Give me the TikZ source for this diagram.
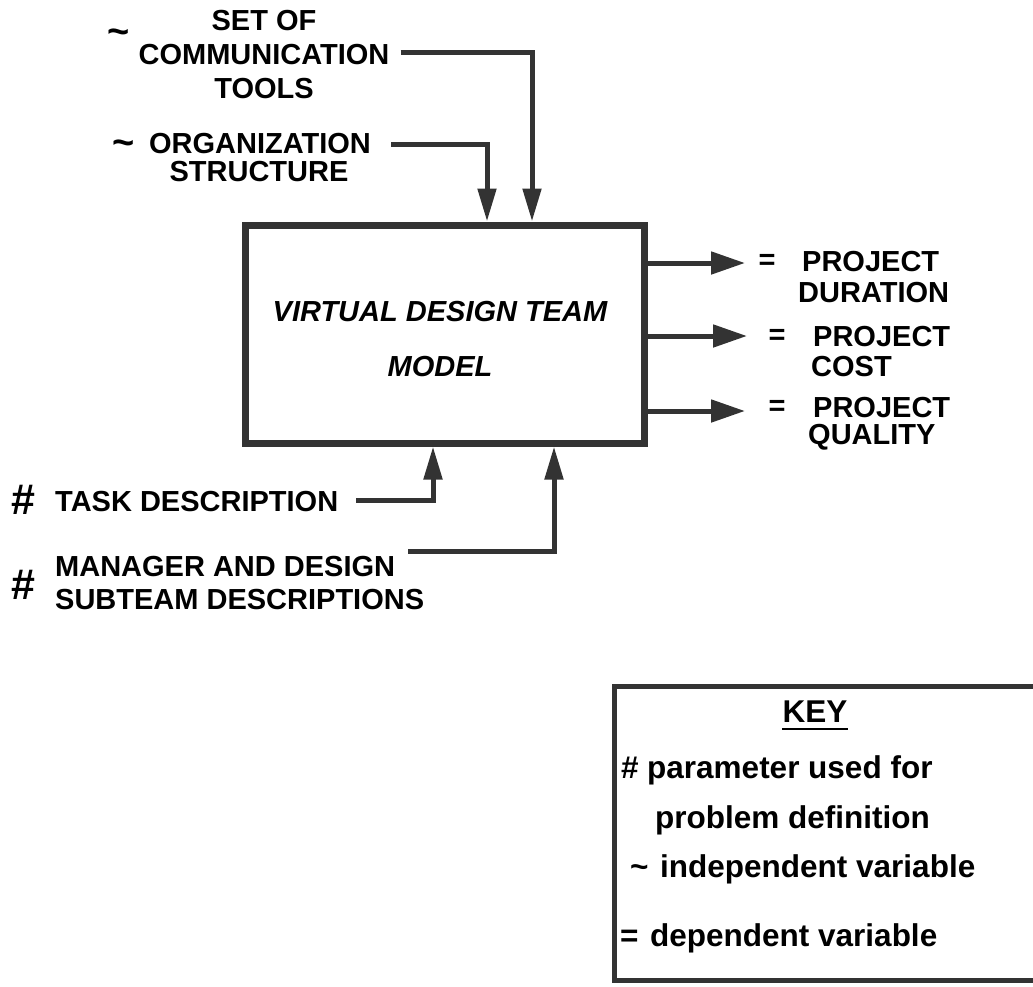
\documentclass[tikz,border=0pt]{standalone}
\usepackage{fontspec}
\setmainfont{Liberation Sans}
\usetikzlibrary{arrows.meta}
\begin{document}
\begin{tikzpicture}[x=1pt,y=-1pt,
  lbl/.style={inner sep=0pt, font=\fontsize{29}{34}\selectfont\bfseries},
  keytxt/.style={inner sep=0pt, anchor=base west, font=\fontsize{31.5}{34}\selectfont\bfseries},
  sym/.style={inner sep=0pt, font=\fontsize{38}{38}\selectfont\bfseries},
  hashsym/.style={inner sep=0pt, font=\fontsize{43}{43}\selectfont\bfseries},
  conn/.style={line width=5pt, draw=black!80},
  arrdown/.style={conn, -{Triangle[length=33pt,width=18pt]}},
  arrright/.style={conn, -{Triangle[length=34pt,width=22pt]}},
  boxst/.style={draw=black!80, line width=7pt, inner sep=0pt, minimum width=399pt, minimum height=218pt},
]
\useasboundingbox (0,0) rectangle (1033,986);

% main model box
\node[boxst] (vdt) at (444.5,334) {};
\node[inner sep=0pt, align=center, font=\fontsize{29}{55}\selectfont\bfseries\itshape] (vdtt) at (440,339.5) {VIRTUAL DESIGN TEAM\\MODEL};

% top inputs
\node[lbl, align=center] (comm) at (264,55) {SET OF\\COMMUNICATION\\TOOLS};
\node[sym] (tl1) at (119,37) {\textasciitilde};
\node[lbl] (org1) at (260,144) {ORGANIZATION};
\node[lbl] (org2) at (259,172) {STRUCTURE};
\node[sym] (tl2) at (124,148) {\textasciitilde};
\coordinate (in1) at (487,0);
\coordinate (in2) at (532,0);
\draw[arrdown] ([xshift=20pt]org1.east) -| (vdt.north -| in1);
\draw[arrdown] ([xshift=11pt,yshift=3pt]comm.east) -| (vdt.north -| in2);

% bottom inputs
\node[hashsym] (h1) at (23,500) {\#};
\node[lbl, anchor=west] (task) at (55,502) {TASK DESCRIPTION};
\node[hashsym] (h2) at (23,585) {\#};
\node[lbl, anchor=west] (mgr1) at (55,567) {MANAGER AND DESIGN};
\node[lbl, anchor=west] (mgr2) at (55,600) {SUBTEAM DESCRIPTIONS};
\coordinate (in3) at (433,0);
\coordinate (in4) at (554,0);
\draw[arrdown] ([xshift=18pt,yshift=2pt]task.east) -| (vdt.south -| in3);
\draw[arrdown] ([xshift=13pt,yshift=16pt]mgr1.east) -| (vdt.south -| in4);

% outputs
\coordinate (o1) at (745,263);
\coordinate (o2) at (747,336);
\coordinate (o3) at (745,411);
\draw[arrright] (vdt.east |- o1) -- (o1);
\draw[arrright] (vdt.east |- o2) -- (o2);
\draw[arrright] (vdt.east |- o3) -- (o3);
\node[lbl] (eq1) at (767,262) {=};
\node[lbl, anchor=west] (p1) at (802,262) {PROJECT};
\node[lbl, anchor=west] (d1) at (798,293) {DURATION};
\node[lbl] (eq2) at (777,337) {=};
\node[lbl, anchor=west] (p2) at (813,337) {PROJECT};
\node[lbl, anchor=west] (c2) at (811,367) {COST};
\node[lbl] (eq3) at (777,408) {=};
\node[lbl, anchor=west] (p3) at (813,408) {PROJECT};
\node[lbl, anchor=west] (q3) at (808,437) {QUALITY};

% key
\draw[line width=5pt, draw=black!80] (1033,686) -| (614,980) -- (1033,980);
\node[inner sep=0pt, font=\fontsize{31.5}{34}\selectfont\bfseries] (keyh) at (815,712) {KEY};
\draw[line width=2pt] ([yshift=-6pt]keyh.south west) -- ([yshift=-6pt]keyh.south east);
\node[keytxt] (k1s) at (621,778) {\#};
\node[keytxt] (k1) at (647,778) {parameter used for};
\node[keytxt] (k2) at (655,828) {problem definition};
\node[keytxt] (k3s) at (630,877) {\textasciitilde};
\node[keytxt] (k3) at (660,877) {independent variable};
\node[keytxt] (k4s) at (620,946) {=};
\node[keytxt] (k4) at (650,946) {dependent variable};
\end{tikzpicture}
\end{document}
